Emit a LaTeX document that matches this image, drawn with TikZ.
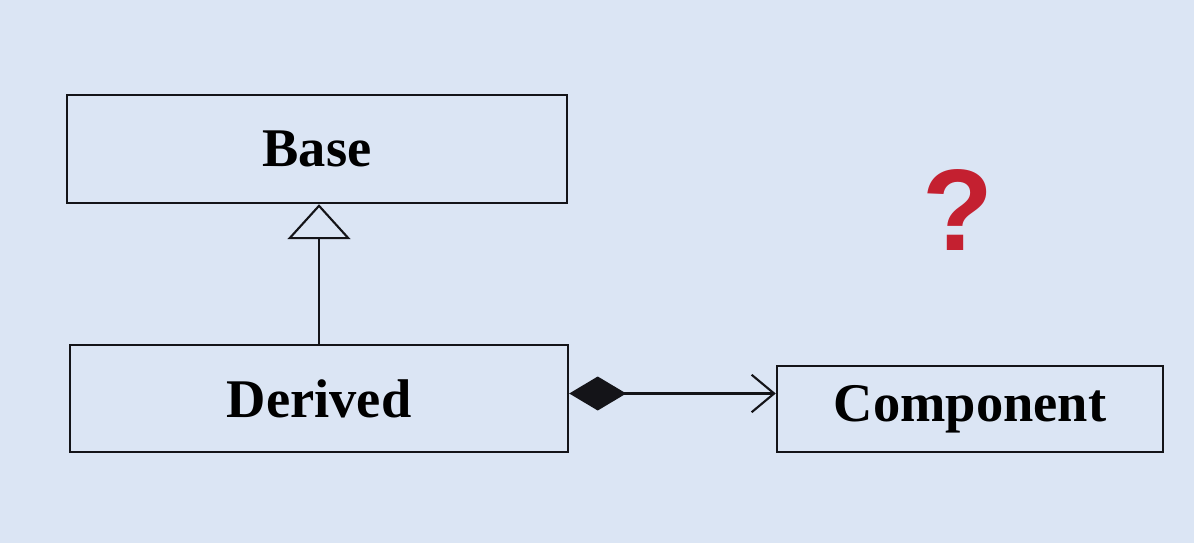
\documentclass[tikz,border=0pt]{standalone}
\usepackage{fontspec}
\setmainfont{Liberation Serif}
\newfontfamily\qfont{Liberation Sans}
\usetikzlibrary{arrows.meta, positioning, calc}
\usepackage{xcolor}
\definecolor{slidebg}{RGB}{219,229,244}
\definecolor{qred}{RGB}{196,32,48}
\definecolor{ink}{RGB}{20,20,24}

\begin{document}
\begin{tikzpicture}[
  classbox/.style={rectangle,draw=ink,line width=1.4pt,fill=none,
               font=\fontsize{31}{36}\selectfont\bfseries,inner sep=0pt},
  inherit/.style={-{Triangle[open,length=0.7cm,width=1.26cm,fill=slidebg]},ink,line width=1.2pt},
  compose/.style={{Diamond[length=1.14cm,width=0.68cm]}-{Straight Barb[length=0.45cm,width=0.75cm]},ink,line width=1.2pt}
]
\fill[slidebg] (0,0) rectangle (23.88,-10.86);
\useasboundingbox (0,0) rectangle (23.88,-10.86);
\node[classbox,minimum width=10cm,minimum height=2.16cm] (base) at (6.34,-2.98) {Base};
\node[classbox,minimum width=9.96cm,minimum height=2.14cm] (derived) at (6.38,-7.97) {Derived};
\node[classbox,minimum width=7.72cm,minimum height=1.72cm] (comp) at (19.40,-8.18) {Component};
\node[font=\qfont\fontsize{66}{70}\selectfont\bfseries,text=qred] (qmark) at (19.16,-4.2) {?};
\coordinate (cstart) at ($(derived.east)+(0,0.1)$);
\draw[inherit] (derived.north) -- (derived.north |- base.south);
\draw[compose] (cstart) -- (cstart -| comp.west);
\end{tikzpicture}
\end{document}
